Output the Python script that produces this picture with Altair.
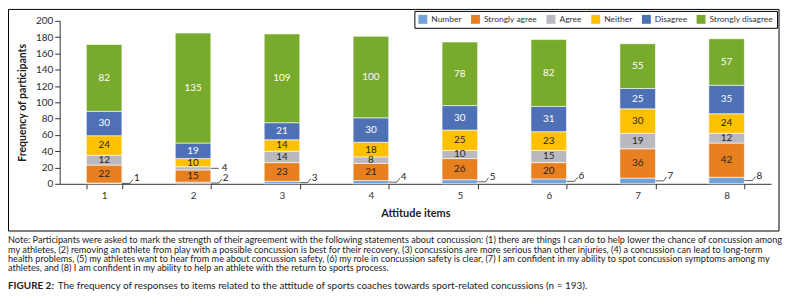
import altair as alt
import pandas as pd

# ---- data ----
items = ["1", "2", "3", "4", "5", "6", "7", "8"]
series = ["Number", "Strongly agree", "Agree", "Neither", "Disagree", "Strongly disagree"]
number = [1, 2, 3, 4, 5, 6, 7, 8]
strongly_agree = [22, 15, 23, 21, 26, 20, 36, 42]
agree = [12, 4, 14, 8, 10, 15, 19, 12]
neither = [24, 10, 14, 18, 25, 23, 30, 24]
disagree = [30, 19, 21, 30, 30, 31, 25, 35]
strongly_disagree = [82, 135, 109, 100, 78, 82, 55, 57]
colors = ["#73a2d8", "#e8801f", "#b9b9bf", "#fdc100", "#4e71b6", "#78aa2b"]
y_ticks = [0, 20, 40, 60, 80, 100, 120, 140, 160, 180, 200]

note_lines = [
    "Note: Participants were asked to mark the strength of their agreement with the following statements about concussion: (1) there are things I can do to help lower the chance of concussion among",
    "my athletes, (2) removing an athlete from play with a possible concussion is best for their recovery, (3) concussions are more serious than other injuries, (4) a concussion can lead to long-term",
    "health problems, (5) my athletes want to hear from me about concussion safety, (6) my role in concussion safety is clear, (7) I am confident in my ability to spot concussion symptoms among my",
    "athletes, and (8) I am confident in my ability to help an athlete with the return to sports process.",
]
caption_bold = "FIGURE 2:"
caption_rest = "The frequency of responses to items related to the attitude of sports coaches towards sport-related concussions (n = 193)."

values_by_series = [number, strongly_agree, agree, neither, disagree, strongly_disagree]
rows = []
for si, (s, vals) in enumerate(zip(series, values_by_series)):
    for it, v in zip(items, vals):
        rows.append({"item": it, "series": s, "value": v, "order": si})
df = pd.DataFrame(rows)

FONT = "Lato"
DARK = "#262626"

xscale = alt.Scale(domain=items, paddingInner=0.6, paddingOuter=0.3)
yscale = alt.Scale(domain=[0, 200], nice=False)

xaxis = alt.Axis(
    tickBand="extent",
    tickSize=5,
    labelAngle=0,
    labelPadding=2,
    labelFontSize=10,
    labelFont=FONT,
    labelColor="#333333",
    titleFont=FONT,
    titleFontSize=11,
    titleFontWeight="bold",
    titleColor="#222222",
    titlePadding=7,
    domainColor="#333333",
    tickColor="#333333",
    grid=False,
)
yaxis = alt.Axis(
    values=y_ticks,
    labelOverlap=False,
    tickSize=5,
    labelPadding=2,
    labelFontSize=10,
    labelFont=FONT,
    labelColor="#2a2a2a",
    titleFont=FONT,
    titleFontSize=10.5,
    titleFontWeight="bold",
    titleColor="#222222",
    titlePadding=8,
    domainColor="#333333",
    tickColor="#333333",
    grid=False,
)


def X():
    return alt.X("item:N", scale=xscale, sort=items, title="Attitude items", axis=xaxis)


def Y(field):
    return alt.Y(field, scale=yscale, title="Frequency of participants", axis=yaxis)


base = (
    alt.Chart(df)
    .transform_stack(
        stack="value",
        groupby=["item"],
        as_=["y0", "y1"],
        sort=[alt.SortField(field="order", order="ascending")],
    )
    .transform_calculate(
        mid="(datum.y0 + datum.y1) / 2",
        outside="datum.series == 'Number' || datum.value < 5",
    )
)

bars = base.mark_bar(stroke="white", strokeWidth=0.6).encode(
    x=X(),
    y=Y("y0:Q"),
    y2="y1:Q",
    color=alt.Color(
        "series:N",
        scale=alt.Scale(domain=series, range=colors),
        legend=alt.Legend(
            orient="none",
            legendX=357,
            legendY=-10,
            direction="horizontal",
            title=None,
            symbolType="square",
            symbolSize=80,
            symbolStrokeWidth=0,
            labelFont=FONT,
            labelFontSize=8.5,
            labelColor="#333333",
            labelOffset=4,
            columnPadding=9,
            strokeColor="black",
            padding=4,
            labelLimit=200,
        ),
    ),
    order=alt.Order("order:Q"),
)

inside_text = base.transform_filter("!datum.outside").mark_text(
    fontSize=10, font=FONT, baseline="middle"
).encode(
    x=X(),
    y=Y("mid:Q"),
    text=alt.Text("value:Q"),
    color=alt.condition(
        "datum.series == 'Disagree' || datum.series == 'Strongly disagree'",
        alt.value("white"),
        alt.value(DARK),
    ),
)

leader_h = base.transform_filter("datum.outside").mark_rule(
    xOffset=18, x2Offset=26, color="#333333", strokeWidth=0.8
).encode(x=X(), x2=alt.X2("item"), y=Y("mid:Q"))

leader_d = base.transform_filter("datum.series == 'Number'").mark_rule(
    xOffset=26, x2Offset=29, y2Offset=-4, color="#333333", strokeWidth=0.8
).encode(x=X(), x2=alt.X2("item"), y=Y("mid:Q"), y2=alt.Y2("mid"))

num_labels = base.transform_filter("datum.series == 'Number'").mark_text(
    align="left", baseline="middle", xOffset=30, dy=-5, fontSize=10, font=FONT, color=DARK
).encode(x=X(), y=Y("mid:Q"), text="value:Q")

small_labels = base.transform_filter("datum.outside && datum.series != 'Number'").mark_text(
    align="left", baseline="middle", xOffset=29, fontSize=10, font=FONT, color=DARK
).encode(x=X(), y=Y("mid:Q"), text="value:Q")

one = pd.DataFrame({"k": [0]})
frame = alt.Chart(one).mark_rect(filled=False, stroke="black", strokeWidth=1).encode(
    x=alt.value(-51.5), x2=alt.value(724), y=alt.value(-11.5), y2=alt.value(211.5)
)

notes = alt.Chart(one).mark_text(
    align="left", baseline="top", fontSize=9.2, lineHeight=9.2, font=FONT, color="#222222", text=note_lines
).encode(x=alt.value(-52), y=alt.value(217))

cap1 = alt.Chart(one).mark_text(
    align="left", baseline="top", fontSize=10, font=FONT, fontWeight="bold", color="#222222", text=caption_bold
).encode(x=alt.value(-52), y=alt.value(262))

cap2 = alt.Chart(one).mark_text(
    align="left", baseline="top", fontSize=10, font=FONT, color="#222222", text=caption_rest
).encode(x=alt.value(-2), y=alt.value(262))

chart = (
    alt.layer(frame, bars, inside_text, leader_h, leader_d, num_labels, small_labels, notes, cap1, cap2)
    .properties(
        width=716,
        height=164,
        padding={"left": 52, "top": 12, "right": 12, "bottom": 115},
        autosize=alt.AutoSizeParams(type="none"),
    )
    .configure_view(stroke=None)
)

chart.save("out.html", embed_options={"renderer": "svg", "actions": False})
